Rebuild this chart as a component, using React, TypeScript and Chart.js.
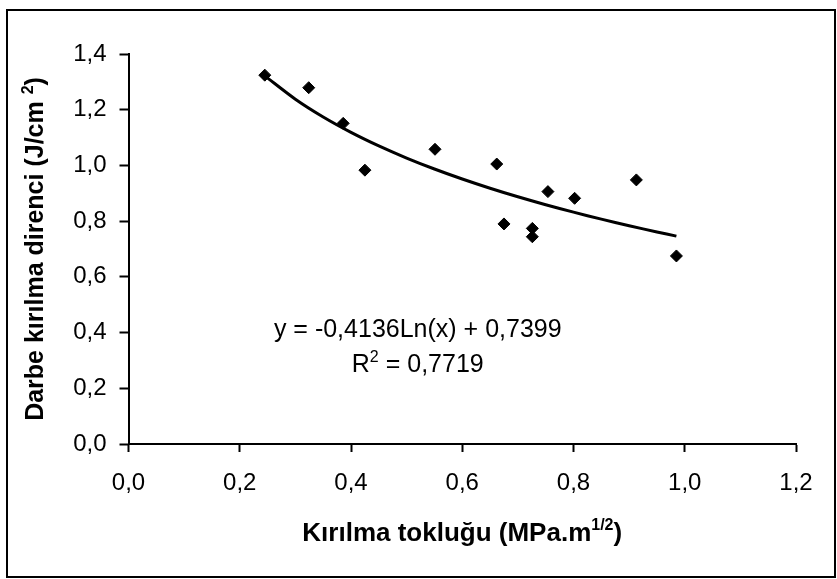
import React, { useEffect, useRef } from "react";
import { Chart, registerables } from "chart.js";

Chart.register(...registerables);

// Scatter data: fracture toughness (x) vs impact strength (y)
const toughness = [0.245, 0.324, 0.386, 0.425, 0.551, 0.662, 0.675, 0.726, 0.726, 0.754, 0.802, 0.913, 0.985];
const impact = [1.324, 1.279, 1.151, 0.983, 1.058, 1.005, 0.79, 0.774, 0.744, 0.906, 0.882, 0.948, 0.675];

// Logarithmic trendline
const trendX = [0.245, 0.3, 0.35, 0.4, 0.45, 0.5, 0.55, 0.6, 0.65, 0.7, 0.75, 0.8, 0.85, 0.9, 0.95, 0.985];
const trendY = [1.3216, 1.2379, 1.1741, 1.1189, 1.0702, 1.0266, 0.9872, 0.9512, 0.9181, 0.8874, 0.8589, 0.8322, 0.8071, 0.7835, 0.7611, 0.7461];

const xTickValues = [0, 0.2, 0.4, 0.6, 0.8, 1.0, 1.2];
const yTickValues = [0, 0.2, 0.4, 0.6, 0.8, 1.0, 1.2, 1.4];

const xTitleParts = [{ t: "Kırılma tokluğu (MPa.m" }, { t: "1/2", sup: true }, { t: ")" }];
const yTitleParts = [{ t: "Darbe kırılma direnci (J/cm " }, { t: "2", sup: true }, { t: ")" }];
const equationParts = [{ t: "y = -0,4136Ln(x) + 0,7399" }];
const r2Parts = [{ t: "R" }, { t: "2", sup: true }, { t: " = 0,7719" }];

const FONT = '"Liberation Sans", Arial, sans-serif';

type Part = { t: string; sup?: boolean };

function drawRich(
  ctx: CanvasRenderingContext2D,
  parts: Part[],
  x: number,
  y: number,
  size: number,
  bold: boolean,
  align: "left" | "center"
) {
  const w = bold ? "bold " : "";
  const base = `${w}${size}px ${FONT}`;
  const sup = `${w}${Math.round(size * 0.62)}px ${FONT}`;
  let total = 0;
  for (const p of parts) {
    ctx.font = p.sup ? sup : base;
    total += ctx.measureText(p.t).width;
  }
  let cx = align === "center" ? x - total / 2 : x;
  ctx.textBaseline = "alphabetic";
  ctx.textAlign = "left";
  for (const p of parts) {
    ctx.font = p.sup ? sup : base;
    ctx.fillText(p.t, cx, p.sup ? y - size * 0.42 : y);
    cx += ctx.measureText(p.t).width;
  }
}

const overlay = {
  id: "overlay",
  afterDraw(chart: any) {
    const ctx: CanvasRenderingContext2D = chart.ctx;
    const { left, right, top, bottom } = chart.chartArea;
    const xs = chart.scales.x;
    const ys = chart.scales.y;
    ctx.save();
    ctx.fillStyle = "#000";
    ctx.strokeStyle = "#000";
    ctx.lineWidth = 2;
    ctx.strokeRect(7, 10, 828, 567);

    drawRich(ctx, xTitleParts, (left + right) / 2, 541, 26, true, "center");

    ctx.save();
    ctx.translate(43, (top + bottom) / 2);
    ctx.rotate(-Math.PI / 2);
    drawRich(ctx, yTitleParts, 0, 0, 25, true, "center");
    ctx.restore();

    drawRich(ctx, equationParts, xs.getPixelForValue(0.52), ys.getPixelForValue(0.384), 25, false, "center");
    drawRich(ctx, r2Parts, xs.getPixelForValue(0.52), ys.getPixelForValue(0.258), 25, false, "center");
    ctx.restore();
  },
};

export default function App() {
  const ref = useRef<HTMLCanvasElement | null>(null);

  useEffect(() => {
    document.body.style.margin = "0";
    const canvas = ref.current;
    if (!canvas) return;
    const fmt = (v: any) => Number(v).toFixed(1).replace(".", ",");
    const chart = new Chart(canvas, {
      type: "scatter",
      data: {
        datasets: [
          {
            type: "line",
            data: trendX.map((x, i) => ({ x, y: trendY[i] })),
            borderColor: "#000",
            borderWidth: 3,
            pointRadius: 0,
            tension: 0.3,
            fill: false,
          } as any,
          {
            data: toughness.map((x, i) => ({ x, y: impact[i] })),
            backgroundColor: "#000",
            borderColor: "#000",
            pointStyle: "rectRot",
            pointRadius: 6,
            pointHoverRadius: 6,
            showLine: false,
          },
        ],
      },
      options: {
        animation: false,
        responsive: false,
        devicePixelRatio: 1,
        layout: { padding: { left: 0, top: 54, right: 41, bottom: 0 } },
        plugins: { legend: { display: false }, tooltip: { enabled: false }, title: { display: false } },
        scales: {
          x: {
            type: "linear",
            min: 0,
            max: 1.2,
            afterBuildTicks: (s: any) => {
              s.ticks = xTickValues.map((v) => ({ value: v }));
            },
            afterFit: (s: any) => {
              s.height = 135;
            },
            ticks: {
              color: "#000",
              font: { family: FONT, size: 24 },
              padding: 17,
              maxRotation: 0,
              callback: fmt,
            },
            grid: { drawOnChartArea: false, drawTicks: true, tickLength: 8, tickWidth: 2, tickColor: "#000" },
            border: { display: true, color: "#000", width: 2 },
          },
          y: {
            type: "linear",
            min: 0,
            max: 1.4,
            afterBuildTicks: (s: any) => {
              s.ticks = yTickValues.map((v) => ({ value: v }));
            },
            afterFit: (s: any) => {
              s.width = 128.5;
            },
            ticks: {
              color: "#000",
              font: { family: FONT, size: 24 },
              padding: 13,
              callback: fmt,
            },
            grid: { drawOnChartArea: false, drawTicks: true, tickLength: 9, tickWidth: 2, tickColor: "#000" },
            border: { display: true, color: "#000", width: 2 },
          },
        },
      },
      plugins: [overlay],
    });
    return () => chart.destroy();
  }, []);

  return (
    <div style={{ width: 837, height: 579, background: "#fff" }}>
      <canvas ref={ref} width={837} height={579} style={{ display: "block" }} />
    </div>
  );
}
